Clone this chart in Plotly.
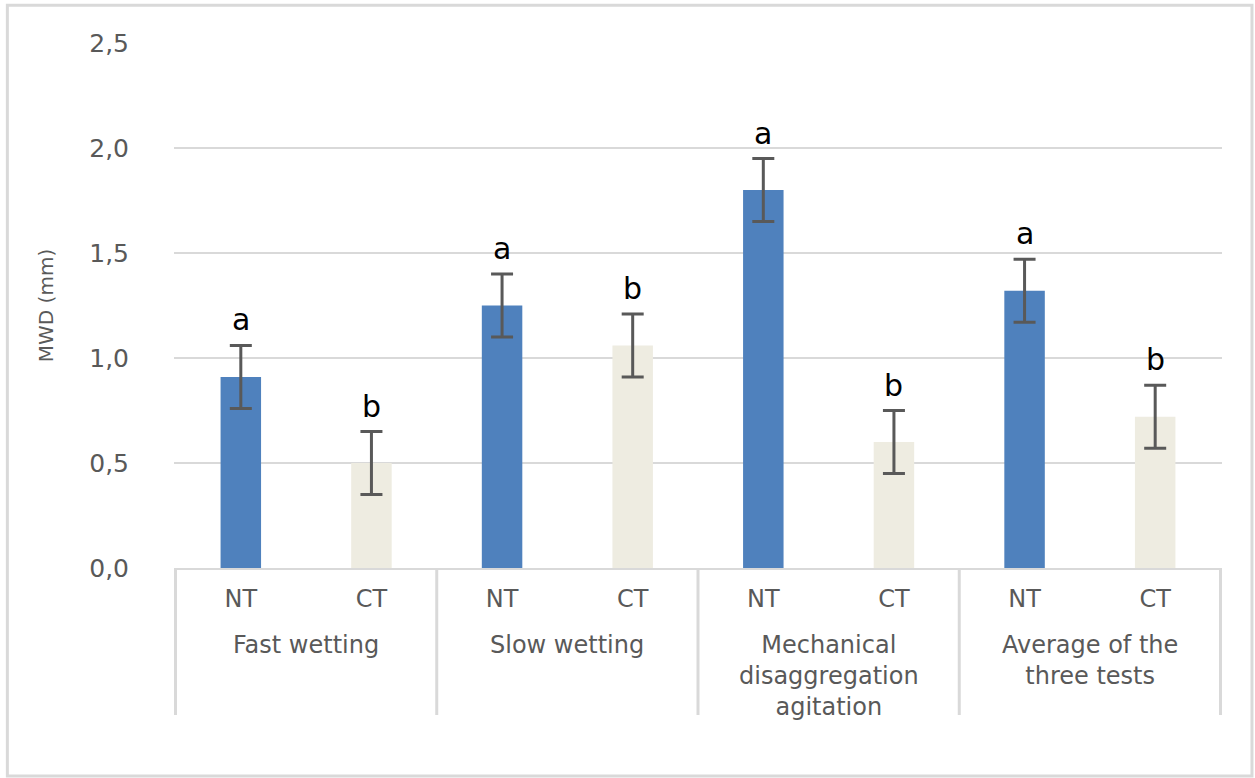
import plotly.graph_objects as go

# Mean weight diameter of aggregates by test and tillage system
groups = ["Fast wetting", "Slow wetting",
          "Mechanical<br>disaggregation<br>agitation",
          "Average of the<br>three tests"]
treatments = ["NT", "CT"]

nt_values = [0.91, 1.25, 1.80, 1.32]
ct_values = [0.50, 1.06, 0.60, 0.72]
nt_errors = [0.15, 0.15, 0.15, 0.15]
ct_errors = [0.15, 0.15, 0.15, 0.15]
nt_letters = ["a", "a", "a", "a"]
ct_letters = ["b", "b", "b", "b"]

y_ticks = [0.0, 0.5, 1.0, 1.5, 2.0, 2.5]

NT_COLOR = "#4f81bd"
CT_COLOR = "#eeece1"
ERR_COLOR = "#595959"
GRID = "#d9d9d9"
TEXT = "#595959"
FONT = "DejaVu Sans"

# one category per bar, in display order
keys = []
for g in groups:
    for t in treatments:
        keys.append(f"{g}|{t}")
nt_keys = [f"{g}|NT" for g in groups]
ct_keys = [f"{g}|CT" for g in groups]

fig = go.Figure()
fig.add_trace(go.Bar(
    x=nt_keys, y=nt_values, width=0.31, marker_color=NT_COLOR,
    marker_line_width=0, name="NT",
    error_y=dict(type="data", array=nt_errors, color=ERR_COLOR,
                 thickness=3, width=11),
))
fig.add_trace(go.Bar(
    x=ct_keys, y=ct_values, width=0.31, marker_color=CT_COLOR,
    marker_line_width=0, name="CT",
    error_y=dict(type="data", array=ct_errors, color=ERR_COLOR,
                 thickness=3, width=11),
))

# significance letters above the error bars
annotations = []
for k, v, e, s in zip(nt_keys + ct_keys, nt_values + ct_values,
                      nt_errors + ct_errors, nt_letters + ct_letters):
    annotations.append(dict(
        x=k, y=v + e, xref="x", yref="y", text=s, showarrow=False,
        yanchor="bottom", yshift=6,
        font=dict(family=FONT, size=30, color="#000000"),
    ))

# group labels under the treatment ticks
for i, g in enumerate(groups):
    annotations.append(dict(
        x=2 * i + 0.5, y=0, xref="x", yref="paper", text=g,
        showarrow=False, yanchor="top", yshift=-61,
        font=dict(family=FONT, size=24, color=TEXT),
    ))

shapes = []
# dividers between groups
for i in range(len(groups) + 1):
    shapes.append(dict(
        type="line", xref="x", yref="paper",
        x0=2 * i - 0.5, x1=2 * i - 0.5, y0=0, y1=-0.28,
        line=dict(color=GRID, width=3),
    ))
# outer frame
shapes.append(dict(
    type="rect", xref="paper", yref="paper",
    x0=-0.159, x1=1.0286, y0=-0.396, y1=1.072,
    line=dict(color="#d9d9d9", width=3),
))

fig.update_layout(
    width=1255, height=778,
    margin=dict(l=174, r=33, t=43, b=210),
    paper_bgcolor="white", plot_bgcolor="white",
    barmode="overlay", showlegend=False,
    separators=",.",
    annotations=annotations, shapes=shapes,
    font=dict(family=FONT, color=TEXT),
)
fig.update_xaxes(
    type="category", categoryorder="array", categoryarray=keys,
    tickvals=keys, ticktext=[k.split("|")[1] for k in keys],
    tickfont=dict(family=FONT, size=24, color=TEXT),
    showline=True, linecolor=GRID, linewidth=2,
    showgrid=False, ticks="", ticklabelstandoff=8,
)
fig.update_yaxes(
    range=[0, 2.5], tickvals=y_ticks, tickformat=".1f",
    tickfont=dict(family=FONT, size=25, color=TEXT),
    showgrid=True, gridcolor=GRID, gridwidth=2,
    zeroline=False, showline=False, ticks="", ticklabelstandoff=44,
    title=dict(text="MWD (mm)", font=dict(family=FONT, size=20, color=TEXT),
               standoff=30),
)

fig.write_html("out.html")
